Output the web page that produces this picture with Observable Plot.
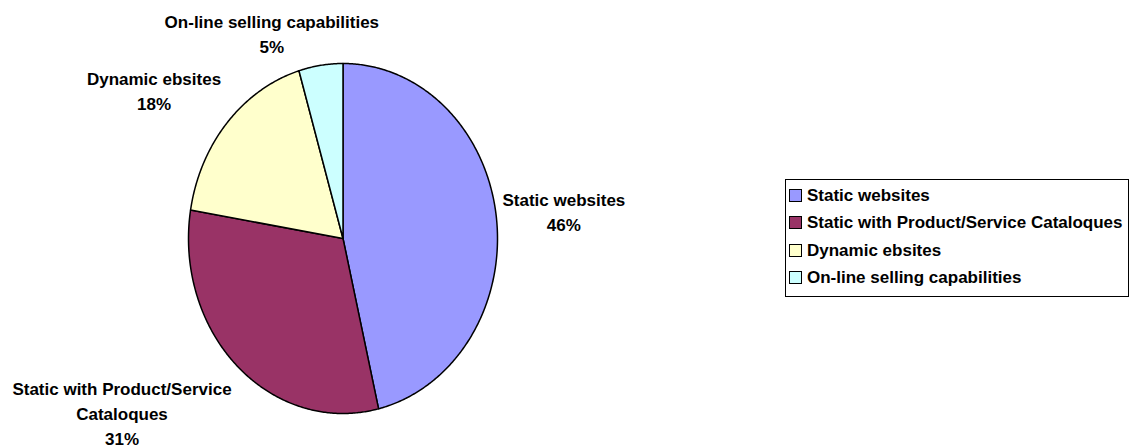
<!DOCTYPE html>
<html>
<head>
<meta charset="utf-8">
<script src="https://cdn.jsdelivr.net/npm/d3@7"></script>
<script src="https://cdn.jsdelivr.net/npm/@observablehq/plot@0.6"></script>
<style>
  html, body { margin: 0; padding: 0; background: #fff; }
  #wrap { position: relative; width: 1135px; height: 448px; overflow: hidden; }
  #legend {
    position: absolute; left: 785px; top: 179px; width: 342px; height: 116px;
    border: 1px solid #000; box-sizing: content-box;
    font: bold 17px "Liberation Sans", Arial, sans-serif; color: #000;
  }
  .item { position: absolute; left: 3px; height: 27px; display: flex; align-items: center; white-space: nowrap; }
  .sw { width: 11px; height: 11px; border: 1px solid #000; margin-right: 5px; flex: none; }
</style>
</head>
<body>
<div id="wrap"></div>
<script>
// ---- data ----
const categories = ["Static websites", "Static with Product/Service Cataloques", "Dynamic ebsites", "On-line selling capabilities"];
const labelTexts = ["Static websites", "Static with Product/Service\nCataloques", "Dynamic ebsites", "On-line selling capabilities"];
const values = [46.3, 31.3, 17.8, 4.6];
const colors = ["#9999FF", "#993366", "#FFFFCC", "#CCFFFF"];

// ---- geometry from values ----
const FS = 17;
const FONT = `bold ${FS}px "Liberation Sans", Arial, sans-serif`;
const LINE_H = 25;
const total = d3.sum(values);
const arcs = d3.pie().sort(null).value(d => d)(values); // angles clockwise from 12 o'clock

const polyPoints = [];
arcs.forEach((a, i) => {
  const name = categories[i];
  polyPoints.push({name, x: 0, y: 0});
  const n = Math.max(2, Math.ceil((a.endAngle - a.startAngle) / (Math.PI / 360)));
  for (let k = 0; k <= n; k++) {
    const t = a.startAngle + (a.endAngle - a.startAngle) * k / n;
    polyPoints.push({name, x: Math.sin(t), y: Math.cos(t)});
  }
  polyPoints.push({name, x: 0, y: 0});
});

// label measurement for Excel-like outside-end placement
const ctx = document.createElement("canvas").getContext("2d");
ctx.font = FONT;
const clamp = (v) => Math.max(-1, Math.min(1, v));
const labels = arcs.map((a, i) => {
  const mid = (a.startAngle + a.endAngle) / 2;
  const ux = Math.sin(mid), uyDown = -Math.cos(mid);
  const text = labelTexts[i] + "\n" + Math.round(values[i] / total * 100) + "%";
  const lines = text.split("\n");
  const w = d3.max(lines, l => ctx.measureText(l).width);
  const h = lines.length * LINE_H;
  return {
    x: ux, y: Math.cos(mid), text,
    dx: clamp(ux * 3) * (w / 2 + 6),
    dy: clamp(uyDown * 2) * (h / 2 + 8)
  };
});

const chart = Plot.plot({
  width: 1135,
  height: 448,
  margin: 0,
  style: {fontFamily: '"Liberation Sans", Arial, sans-serif', background: "#fff"},
  x: {domain: [-1, 1], range: [188, 497], axis: null},
  y: {domain: [-1, 1], range: [413, 63], axis: null},
  color: {domain: categories, range: colors, legend: false},
  marks: [
    Plot.line(polyPoints, {x: "x", y: "y", z: "name", fill: "name", stroke: "#000", strokeWidth: 1.5, strokeLinejoin: "round", curve: "linear"}),
    ...labels.map(l => Plot.text([l], {
      x: "x", y: "y", text: "text", dx: l.dx, dy: l.dy,
      textAnchor: "middle", lineAnchor: "middle", lineHeight: LINE_H / FS,
      fontSize: FS, fontWeight: "bold", fill: "#000"
    }))
  ]
});
const wrap = document.getElementById("wrap");
wrap.appendChild(chart);

// legend
const legend = document.createElement("div");
legend.id = "legend";
categories.forEach((c, i) => {
  const item = document.createElement("div");
  item.className = "item";
  item.style.top = Math.round(2 + i * 27.4) + "px";
  const sw = document.createElement("span");
  sw.className = "sw";
  sw.style.background = colors[i];
  item.appendChild(sw);
  item.appendChild(document.createTextNode(c));
  legend.appendChild(item);
});
wrap.appendChild(legend);
</script>
</body>
</html>
